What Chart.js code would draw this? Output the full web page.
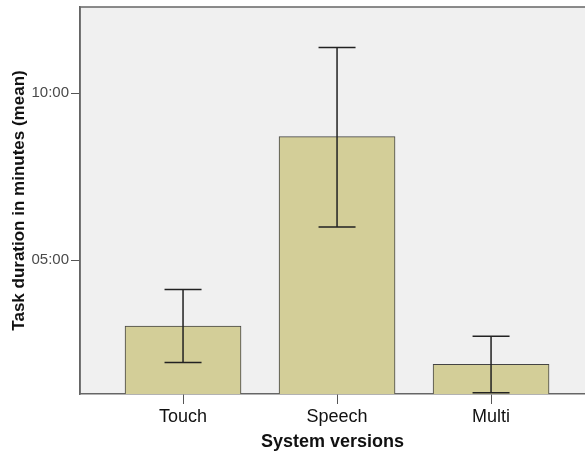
<!DOCTYPE html>
<html>
<head>
<meta charset="utf-8">
<script src="https://cdn.jsdelivr.net/npm/chart.js@4"></script>
<style>
  html, body { margin: 0; padding: 0; background: #fff; }
  #wrap { width: 585px; height: 453px; }
</style>
</head>
<body>
<div id="wrap"><canvas id="grafica"></canvas></div>
<script>
// datos (minutos)
const categorias = ['Touch', 'Speech', 'Multi'];
const medias = [3.03, 8.70, 1.89];
const errInf = [1.94, 6.00, 1.04];
const errSup = [4.13, 11.37, 2.73];
const yTicks = [5, 10];
const yTickLabels = ['05:00', '10:00'];

const colorBarra = '#d3ce98';
const colorFondo = '#f0f0f0';
const colorEje = '#666666';

// fondo del area del grafico
const fondoPlugin = {
    id: 'fondo',
    beforeDraw(chart) {
        const { ctx, chartArea: a } = chart;
        ctx.save();
        ctx.fillStyle = colorFondo;
        ctx.fillRect(a.left, a.top, a.right - a.left, a.bottom - a.top);
        ctx.restore();
    },
    afterDraw(chart) {
        const { ctx, chartArea: a } = chart;
        ctx.save();
        ctx.strokeStyle = colorEje;
        ctx.lineWidth = 1.5;
        ctx.beginPath();
        ctx.moveTo(a.left, a.bottom);
        ctx.lineTo(a.left, a.top);
        ctx.lineTo(a.right, a.top);
        ctx.stroke();
        ctx.restore();
    }
};

// barras de error
const errorPlugin = {
    id: 'barrasError',
    afterDatasetsDraw(chart) {
        const { ctx } = chart;
        const xs = chart.scales.x, ys = chart.scales.y;
        ctx.save();
        ctx.strokeStyle = '#222';
        ctx.lineWidth = 1.5;
        categorias.forEach((c, i) => {
            const x = xs.getPixelForValue(i + 1);
            const y1 = ys.getPixelForValue(errInf[i]);
            const y2 = ys.getPixelForValue(errSup[i]);
            ctx.beginPath();
            ctx.moveTo(x, y1); ctx.lineTo(x, y2);
            ctx.moveTo(x - 18.5, y1); ctx.lineTo(x + 18.5, y1);
            ctx.moveTo(x - 18.5, y2); ctx.lineTo(x + 18.5, y2);
            ctx.stroke();
        });
        ctx.restore();
    }
};

new Chart(document.getElementById('grafica').getContext('2d'), {
    type: 'bar',
    data: {
        datasets: [{
            data: medias.map((v, i) => ({ x: i + 1, y: v })),
            backgroundColor: colorBarra,
            borderColor: '#444',
            borderWidth: 1,
            barThickness: 116
        }]
    },
    options: {
        responsive: true,
        maintainAspectRatio: false,
        animation: false,
        layout: { padding: { top: 7, right: 0, left: 0, bottom: 0 } },
        plugins: { legend: { display: false }, tooltip: { enabled: false } },
        scales: {
            x: {
                type: 'linear',
                offset: false,
                min: 0.331,
                max: 3.61,
                afterBuildTicks: (axis) => { axis.ticks = categorias.map((c, i) => ({ value: i + 1 })); },
                afterFit: (axis) => { axis.height = 59; axis.paddingLeft = 0; axis.paddingRight = 0; },
                ticks: {
                    callback: (v) => categorias[v - 1] || '',
                    color: '#111',
                    font: { family: 'Liberation Sans', size: 18 },
                    padding: 2,
                    maxRotation: 0
                },
                grid: { offset: false, drawOnChartArea: false, drawTicks: true, tickLength: 10, color: '#555' },
                border: { display: true, color: colorEje, width: 1.5 },
                title: {
                    display: true,
                    text: 'System versions',
                    color: '#111',
                    font: { family: 'Liberation Sans', size: 18, weight: 'bold' },
                    padding: { top: 0, bottom: 0 }
                }
            },
            y: {
                min: 1.0,
                max: 12.58,
                afterBuildTicks: (axis) => { axis.ticks = yTicks.map(v => ({ value: v })); },
                afterFit: (axis) => { axis.width = 80; axis.paddingTop = 0; axis.paddingBottom = 0; },
                ticks: {
                    callback: (v) => yTickLabels[yTicks.indexOf(v)],
                    color: '#4a4a4a',
                    font: { family: 'Liberation Sans', size: 15 },
                    padding: 2
                },
                grid: { drawOnChartArea: false, drawTicks: true, tickLength: 9, color: '#555' },
                border: { display: true, color: colorEje, width: 1.5 },
                title: {
                    display: true,
                    text: 'Task duration in minutes (mean)',
                    color: '#111',
                    font: { family: 'Liberation Sans', size: 17, weight: 'bold' },
                    padding: { top: 9, bottom: 0 }
                }
            }
        }
    },
    plugins: [fondoPlugin, errorPlugin]
});
</script>
</body>
</html>
